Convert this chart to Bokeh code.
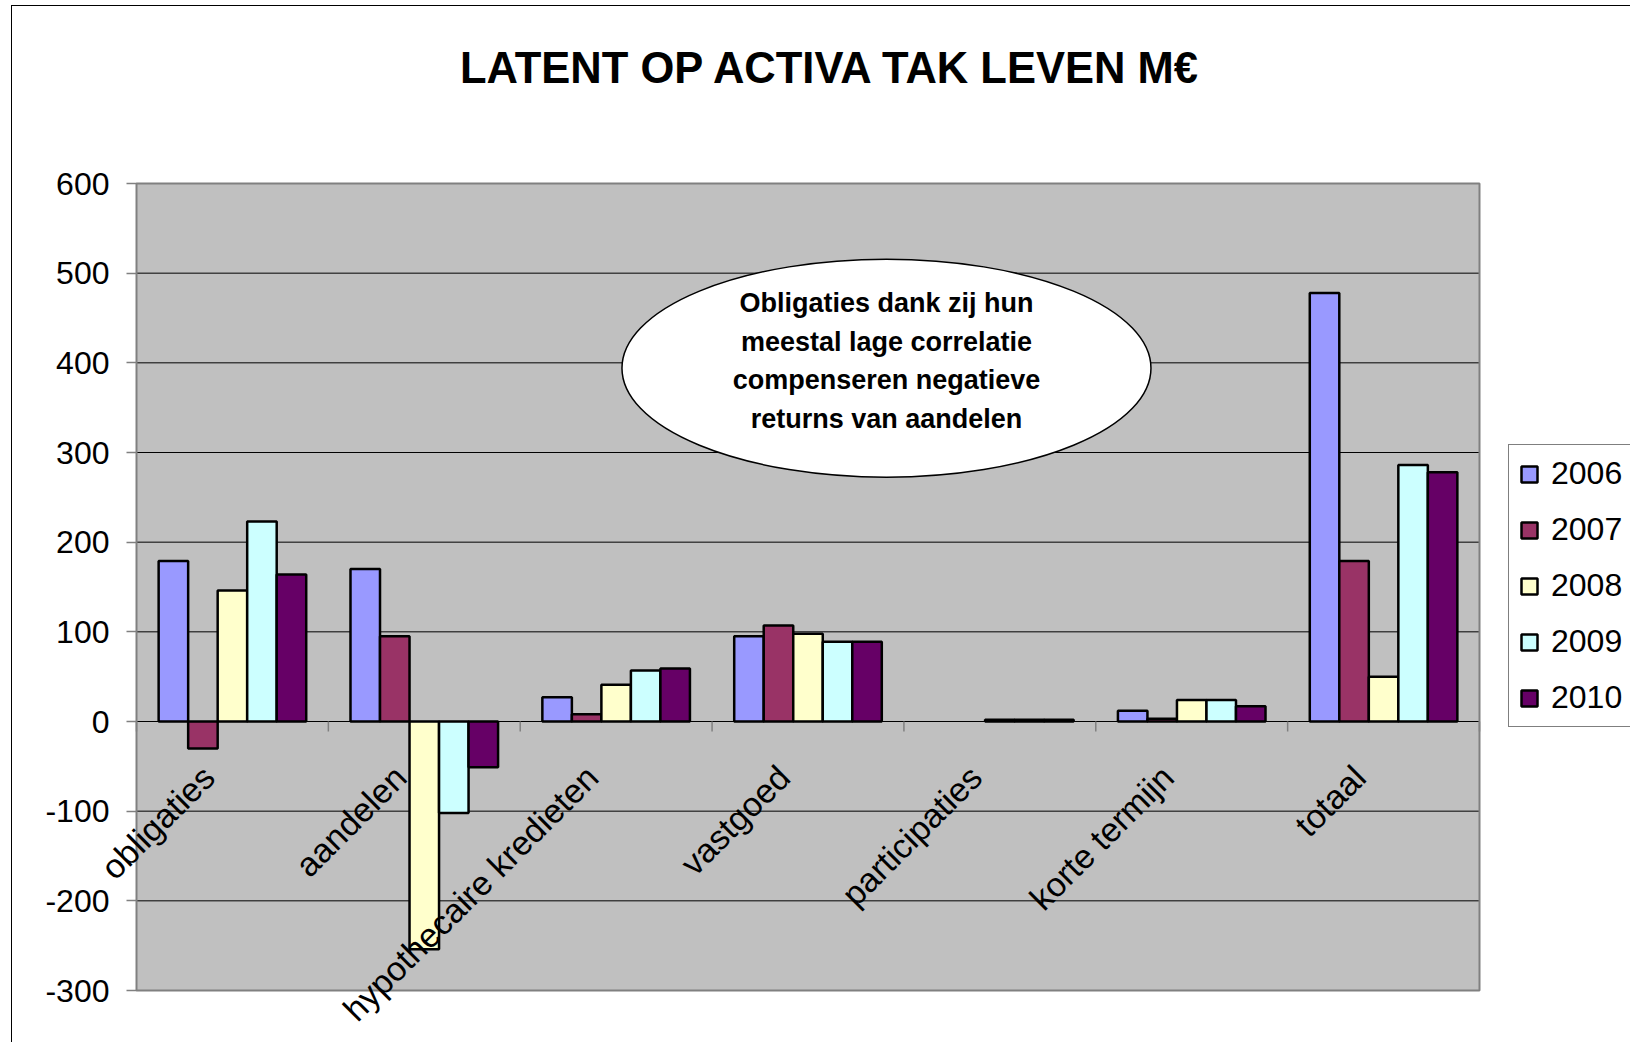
import math

from bokeh.core.properties import value
from bokeh.embed import file_html
from bokeh.layouts import column
from bokeh.models import (ColumnDataSource, CustomJSTickFormatter, Div,
                          FixedTicker, Legend, LegendItem, LinearAxis, Range1d)
from bokeh.plotting import figure
from bokeh.resources import INLINE
from bokeh.transform import dodge

nan = float("nan")

# --- data -----------------------------------------------------------------
categories = ["obligaties", "aandelen", "hypothecaire kredieten", "vastgoed",
              "participaties", "korte termijn", "totaal"]
years = ["2006", "2007", "2008", "2009", "2010"]

v2006 = [179, 170, 27, 95, nan, 12, 478]
v2007 = [-30, 95, 8, 107, nan, 3, 179]
v2008 = [146, -254, 41, 98, 2, 24, 50]
v2009 = [223, -102, 57, 89, 2, 24, 286]
v2010 = [164, -51, 59, 89, 2, 17, 278]

y_ticks = [-300, -200, -100, 0, 100, 200, 300, 400, 500, 600]

title_text = "LATENT OP ACTIVA TAK LEVEN M\u20ac"
note_text = ("Obligaties dank zij hun\nmeestal lage correlatie\n"
             "compenseren negatieve\nreturns van aandelen")

# --- styling / layout -----------------------------------------------------
colors = ["#9999FF", "#993366", "#FFFFCC", "#CCFFFF", "#660066"]
FONT = "Liberation Sans"

W = 1618                 # content width inside the chart border
TITLE_H = 110            # height of the title strip
H = 1036 - TITLE_H       # figure height
# the grey plotting area inside the figure, in pixels
AREA_L, AREA_T, AREA_W, AREA_H = 124, 67, 1343, 807

n_cat = len(categories)
y_lo, y_hi = y_ticks[0], y_ticks[-1]
units_per_px = (y_hi - y_lo) / AREA_H
cat_px = AREA_W / n_cat

# the frame spans the whole figure so that rotated labels are never clipped
x_start = -AREA_L / cat_px
x_stop = (W - AREA_L) / cat_px
y_top = y_hi + AREA_T * units_per_px
y_bottom = y_lo - (H - AREA_T - AREA_H) * units_per_px

bar_w = 1 / 6.5            # five bars plus a 150% gap per category
tick_len = 10 * units_per_px
label_shift = 24 / cat_px  # category labels sit a little left of centre

# each category occupies one unit on the x scale, centred at i + 0.5
centers = [i + 0.5 for i in range(n_cat)]
edges = [float(i) for i in range(n_cat + 1)]

title_div = Div(
    text=(f'<div style="font-family:\'{FONT}\';font-size:43.5px;'
          'font-weight:bold;line-height:43px;color:black;white-space:nowrap;'
          f'padding-left:448px;padding-top:41px;">{title_text}</div>'),
    width=W, height=TITLE_H, margin=0)

p = figure(width=W, height=H,
           x_range=Range1d(x_start, x_stop),
           y_range=Range1d(y_bottom, y_top),
           output_backend="svg", toolbar_location=None,
           x_axis_location=None, y_axis_location=None,
           min_border=0,
           background_fill_color="white", border_fill_color="white",
           outline_line_color=None)
p.xgrid.visible = False
p.ygrid.visible = False

# grey plotting area, its gridlines and border
p.quad(left=0, right=n_cat, bottom=y_lo, top=y_hi,
       fill_color="#C0C0C0", line_color=None)
p.segment(x0=0, x1=n_cat, y0=y_ticks, y1=y_ticks,
          line_color="black", line_width=1)
p.quad(left=0, right=n_cat, bottom=y_lo, top=y_hi,
       fill_color=None, line_color="#808080", line_width=2)

# category tick marks hanging below the zero line
p.segment(x0=edges, y0=0, x1=edges, y1=-tick_len,
          line_color="#808080", line_width=1.5)

src = ColumnDataSource(dict(cat=categories, pos=centers, v2006=v2006,
                            v2007=v2007, v2008=v2008, v2009=v2009,
                            v2010=v2010))

bars = []
for i, (yr, color) in enumerate(zip(years, colors)):
    r = p.vbar(x=dodge("pos", (i - 2) * bar_w), top="v" + yr, bottom=0,
               width=bar_w, source=src, fill_color=color,
               line_color="black", line_width=2.5)
    bars.append((yr, r))

# value axis on the left edge of the grey area
val_axis = LinearAxis(fixed_location=0, ticker=FixedTicker(ticks=y_ticks),
                      formatter=CustomJSTickFormatter(code="return tick.toFixed(0)"),
                      axis_line_color=None,
                      major_tick_line_color="#808080", major_tick_line_width=1.5,
                      major_tick_out=10, major_tick_in=0,
                      minor_tick_line_color=None,
                      major_label_standoff=17,
                      major_label_text_font=FONT,
                      major_label_text_font_size="32px",
                      major_label_text_color="black")
p.add_layout(val_axis, "left")

# category axis pinned to the zero line, labels rotated 45 degrees
p.extra_x_ranges = {"labels": Range1d(x_start + label_shift, x_stop + label_shift)}
cat_axis = LinearAxis(x_range_name="labels", fixed_location=0,
                      ticker=FixedTicker(ticks=centers),
                      formatter=CustomJSTickFormatter(
                          args=dict(names=categories),
                          code="return names[Math.floor(tick)] || ''"),
                      axis_line_color=None, major_tick_line_color=None,
                      minor_tick_line_color=None, major_tick_out=0,
                      major_tick_in=0, major_label_orientation=math.pi / 4,
                      major_label_standoff=50,
                      major_label_text_font=FONT,
                      major_label_text_font_size="34px",
                      major_label_text_color="black")
p.add_layout(cat_axis, "below")

# callout ellipse with the comment
note_x = centers[categories.index("vastgoed")] + 0.409
p.ellipse(x=[note_x], y=[394], width=529, height=218,
          width_units="screen", height_units="screen",
          fill_color="white", line_color="black", line_width=1.5)
p.text(x=[note_x], y=[402], text=[note_text],
       text_align="center", text_baseline="middle",
       text_font=value(FONT), text_font_size="27px", text_font_style="bold",
       text_line_height=1.28, text_color="black")

legend = Legend(items=[LegendItem(label=yr, renderers=[r]) for yr, r in bars],
                location=(1496, 315), orientation="vertical",
                border_line_color="black", border_line_width=1,
                background_fill_color="white", background_fill_alpha=1,
                label_text_font=FONT, label_text_font_size="32px",
                label_text_color="black",
                glyph_width=20, glyph_height=20, label_standoff=12,
                spacing=19, padding=10, margin=0)
p.add_layout(legend, "center")

page = column(title_div, p, spacing=0,
              styles={"margin-left": "11px", "margin-top": "5px",
                      "border-left": "1px solid black",
                      "border-top": "1px solid black"})

open("out.html", "w").write(file_html(page, INLINE))
